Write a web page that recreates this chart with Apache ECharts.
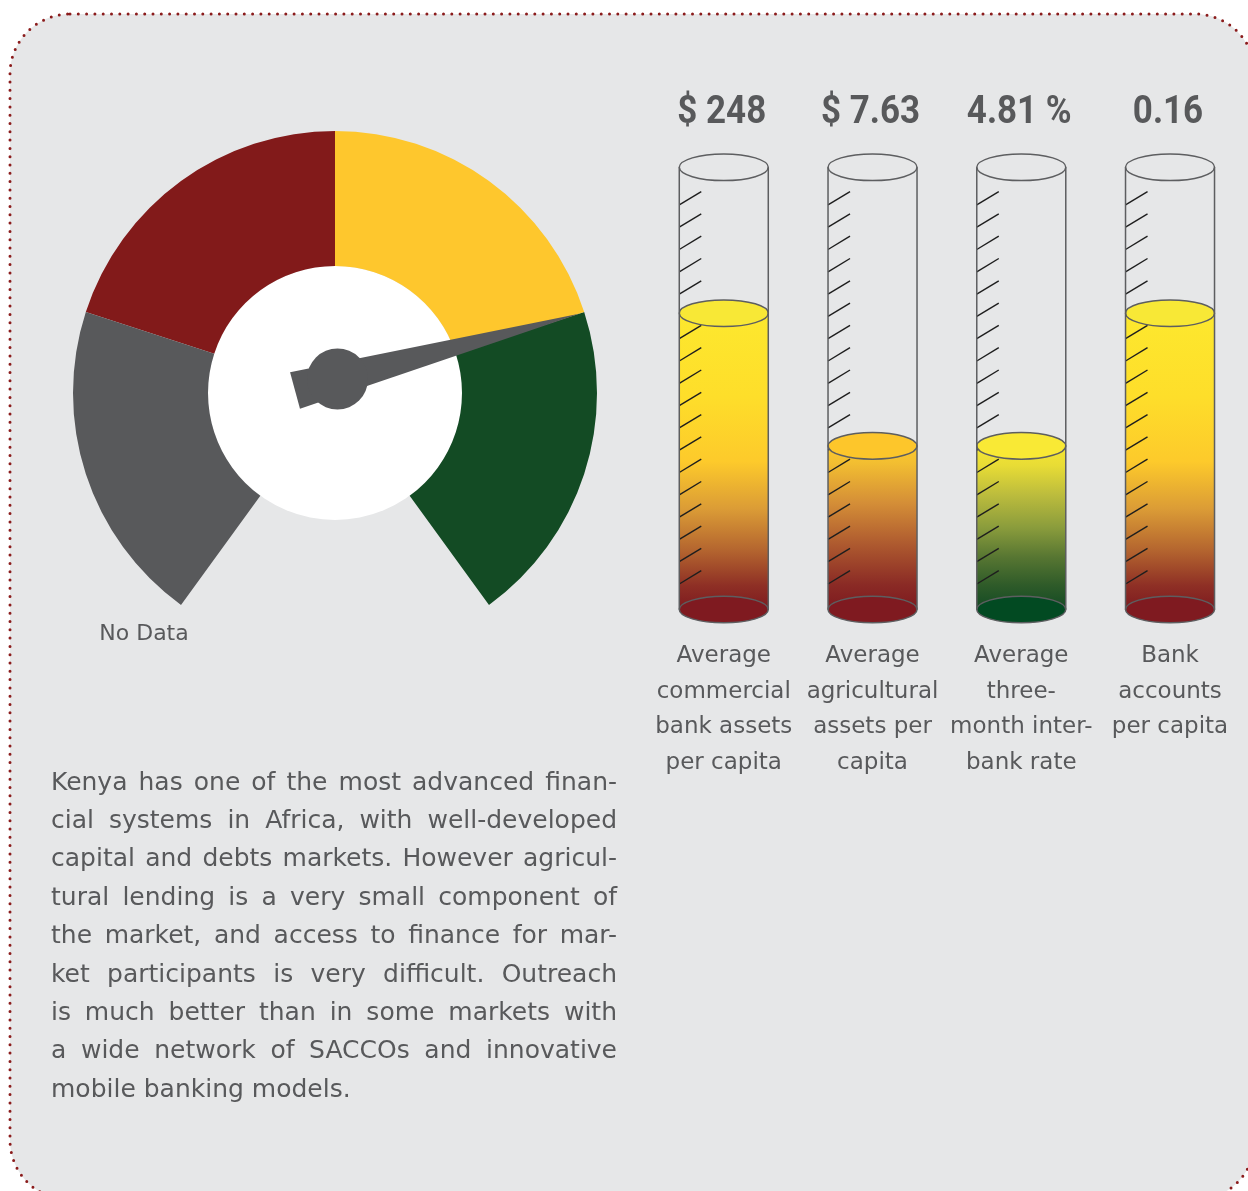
<!DOCTYPE html>
<html>
<head>
<meta charset="utf-8">
<script src="https://cdn.jsdelivr.net/npm/echarts@6/dist/echarts.min.js"></script>
<style>
html,body{margin:0;padding:0;background:#ffffff;}
#chart{width:1248px;height:1191px;}
</style>
</head>
<body>
<div id="chart"></div>
<script>
// ---------------- DATA ----------------
// Gauge: four equal bands, needle value (0-100 scale)
const gaugeBandNames = ['No Data', 'Low', 'Medium', 'High'];
const gaugeBandEnds = [0.25, 0.5, 0.75, 1];
const gaugeValue = 76;
const gaugeNoDataLabel = 'No Data';

// Tubes
const tubeCategories = [
  'Average\ncommercial\nbank assets\nper capita',
  'Average\nagricultural\nassets per\ncapita',
  'Average\nthree-\nmonth inter-\nbank rate',
  'Bank\naccounts\nper capita'
];
const tubeValueLabels = ['$ 248', '$ 7.63', '4.81 %', '0.16'];
const tubeFillLevels = [67, 37, 37, 67];   // fill height, % of tube

// Paragraph
const paragraphLines = [
  'Kenya has one of the most advanced finan-',
  'cial systems in Africa, with well-developed',
  'capital and debts markets. However agricul-',
  'tural lending is a very small component of',
  'the market, and access to finance for mar-',
  'ket participants is very difficult. Outreach',
  'is much better than in some markets with',
  'a wide network of SACCOs and innovative',
  'mobile banking models.'
];

// ---------------- STYLES ----------------
const textColor = '#58595b';
const bandColors = ['#58595b', '#821a1a', '#fec72d', '#134b24'];
const tubeStyles = [
  { top: '#f8e836', bottom: '#7f1a20',
    stops: [[0,'#fde82e'],[0.28,'#fede2a'],[0.5,'#fdca2b'],[0.66,'#db9c36'],[0.8,'#b4652f'],[0.92,'#8e2f25'],[1,'#7d1a1f']] },
  { top: '#fdc62b', bottom: '#7f1a20',
    stops: [[0,'#fcc82d'],[0.1,'#f3bf31'],[0.35,'#d48e37'],[0.6,'#ae5a2f'],[0.85,'#8a2a25'],[1,'#7d1a1f']] },
  { top: '#f9e935', bottom: '#024a22',
    stops: [[0,'#f6e734'],[0.12,'#e8dc35'],[0.3,'#bcbc3d'],[0.5,'#8a9c3c'],[0.68,'#577632'],[0.85,'#2f5b29'],[1,'#124a24']] },
  { top: '#f8e836', bottom: '#7f1a20',
    stops: [[0,'#fde82e'],[0.28,'#fede2a'],[0.5,'#fdca2b'],[0.66,'#db9c36'],[0.8,'#b4652f'],[0.92,'#8e2f25'],[1,'#7d1a1f']] }
];

const bodyFont = '25px "DejaVu Sans"';

const measureCtx = document.createElement('canvas').getContext('2d');
function textWidth(s, font) { measureCtx.font = font; return measureCtx.measureText(s).width; }

function renderTube(params, api) {
  const i = params.dataIndex;
  const base = api.coord([i, 0]);
  const top = api.coord([i, 100]);
  const fill = api.coord([i, api.value(1)]);
  const cx = base[0], yB = base[1], yT = top[1], yF = fill[1];
  const hw = 44.5, ry = 13.3;
  const st = tubeStyles[i];
  const stroke = '#5d5e60';
  const children = [];
  children.push({ type: 'rect', shape: { x: cx - hw, y: yF, width: hw * 2, height: yB - yF },
    style: { fill: new echarts.graphic.LinearGradient(0, 0, 0, 1, st.stops.map(s => ({ offset: s[0], color: s[1] }))) } });
  children.push({ type: 'ellipse', shape: { cx: cx, cy: yB, rx: hw, ry: ry },
    style: { fill: st.bottom, stroke: stroke, lineWidth: 1.5 } });
  // graduation ticks
  const nT = 18, tTop = 91.5, tBot = 5.77;
  for (let k = 0; k < nT; k++) {
    const v = tTop - k * (tTop - tBot) / (nT - 1);
    const p = api.coord([i, v]);
    children.push({ type: 'line', shape: { x1: cx - hw, y1: p[1], x2: cx - hw + 22, y2: p[1] - 13.3 },
      style: { stroke: '#1e1e1e', lineWidth: 1.4 } });
  }
  children.push({ type: 'ellipse', shape: { cx: cx, cy: yF, rx: hw, ry: ry },
    style: { fill: st.top, stroke: stroke, lineWidth: 1.5 } });
  children.push({ type: 'line', shape: { x1: cx - hw, y1: yT, x2: cx - hw, y2: yB }, style: { stroke: stroke, lineWidth: 1.5 } });
  children.push({ type: 'line', shape: { x1: cx + hw, y1: yT, x2: cx + hw, y2: yB }, style: { stroke: stroke, lineWidth: 1.5 } });
  children.push({ type: 'ellipse', shape: { cx: cx, cy: yT, rx: hw, ry: ry },
    style: { fill: 'none', stroke: stroke, lineWidth: 1.5 } });
  children.push({ type: 'text', x: cx - 2, y: yT - 54, scaleX: 0.92, scaleY: 1,
    style: { text: tubeValueLabels[i], fill: textColor, font: 'bold 38px Roboto',
      align: 'center', verticalAlign: 'middle', textAlign: 'center', textVerticalAlign: 'middle' } });
  return { type: 'group', children: children };
}

// graphic elements: background, "No Data", paragraph
const graphics = [];
graphics.push({ type: 'rect', z: -10, shape: { x: 10, y: 14, width: 1245, height: 1186, r: 60 },
  style: { fill: '#e6e7e8', stroke: '#8b1c1c', lineWidth: 3, lineDash: [0, 8.3], lineCap: 'round' } });
graphics.push({ type: 'text', x: 144, y: 634,
  style: { text: gaugeNoDataLabel, font: '22px "DejaVu Sans"', fill: textColor,
    align: 'center', verticalAlign: 'middle', textAlign: 'center', textVerticalAlign: 'middle' } });

const paraLeft = 51, paraWidth = 566, paraTop = 783, paraLineH = 38.4;
paragraphLines.forEach((line, li) => {
  const y = paraTop + li * paraLineH;
  const words = line.split(' ');
  const widths = words.map(w => textWidth(w, bodyFont));
  const total = widths.reduce((a, b) => a + b, 0);
  const last = li === paragraphLines.length - 1;
  const gap = last ? textWidth(' ', bodyFont) : (paraWidth - total) / (words.length - 1);
  let x = paraLeft;
  words.forEach((w, wi) => {
    graphics.push({ type: 'text', x: x, y: y,
      style: { text: w, font: bodyFont, fill: textColor,
        verticalAlign: 'middle', textVerticalAlign: 'middle', align: 'left', textAlign: 'left' } });
    x += widths[wi] + gap;
  });
});

const chart = echarts.init(document.getElementById('chart'), null, { renderer: 'canvas' });
chart.setOption({
  animation: false,
  backgroundColor: '#ffffff',
  graphic: { elements: graphics },
  grid: { left: 649.4, width: 595, top: 167.3, height: 442.2 },
  xAxis: {
    type: 'category', data: tubeCategories,
    axisLine: { show: false }, axisTick: { show: false }, splitLine: { show: false },
    axisLabel: { interval: 0, color: textColor, fontFamily: 'DejaVu Sans', fontSize: 23, lineHeight: 35.5, margin: 29, align: 'center' }
  },
  yAxis: { type: 'value', min: 0, max: 100, show: false },
  series: [
    {
      type: 'pie', silent: true, center: [335, 393], radius: [0, 127], z: 1,
      label: { show: false }, labelLine: { show: false },
      data: [{ value: 1, name: 'center', itemStyle: { color: '#ffffff' } }]
    },
    {
      type: 'gauge', center: [335, 393], radius: 262, startAngle: 234, endAngle: -54, min: 0, max: 100, z: 2,
      axisLine: { lineStyle: { width: 135, color: gaugeBandEnds.map((e, k) => [e, bandColors[k]]) } },
      pointer: { show: false }, anchor: { show: false }, progress: { show: false },
      axisTick: { show: false }, splitLine: { show: false }, axisLabel: { show: false },
      detail: { show: false }, title: { show: false },
      data: [{ value: gaugeValue, name: gaugeBandNames.join(',') }]
    },
    {
      type: 'gauge', center: [337.5, 379], radius: 262, startAngle: 234, endAngle: -54, min: 0, max: 100, z: 4,
      axisLine: { show: false }, progress: { show: false },
      axisTick: { show: false }, splitLine: { show: false }, axisLabel: { show: false },
      detail: { show: false }, title: { show: false },
      pointer: { show: true, icon: 'path://M0 0L1 100L-1 100Z', length: 295.5, width: 38, offsetCenter: [0, 44],
        itemStyle: { color: '#58595b' } },
      anchor: { show: true, showAbove: true, size: 61, icon: 'circle', itemStyle: { color: '#58595b' } },
      data: [{ value: gaugeValue }]
    },
    {
      type: 'custom', coordinateSystem: 'cartesian2d', clip: false, z: 3,
      renderItem: renderTube,
      encode: { x: 0, y: 1 },
      data: tubeFillLevels.map((v, i) => [i, v])
    }
  ]
});
</script>
</body>
</html>
